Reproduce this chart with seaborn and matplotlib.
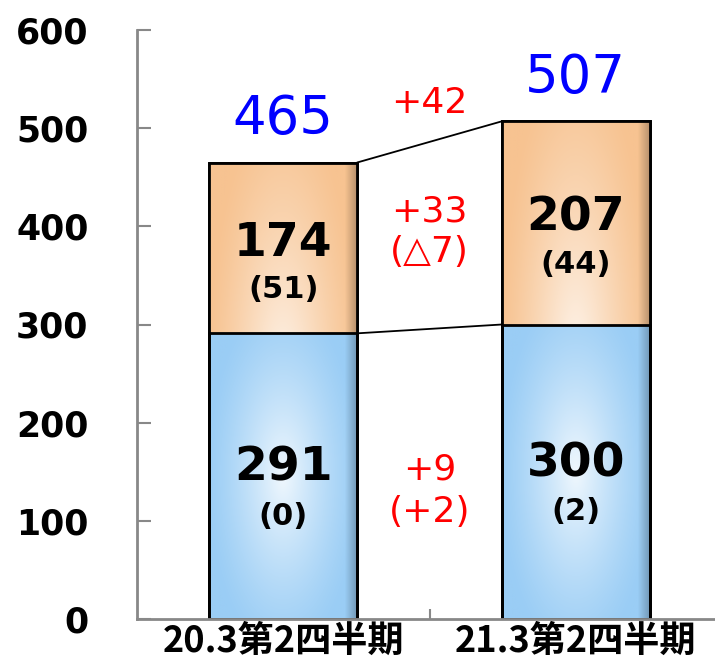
import numpy as np
import pandas as pd
import matplotlib
matplotlib.use("Agg")
import matplotlib.pyplot as plt
import seaborn as sns
from matplotlib.colors import to_rgb
from matplotlib.patches import Rectangle

# ---- data ----
categories = ["20.3第2四半期", "21.3第2四半期"]
bottom_vals = [291, 300]          # blue segment
top_vals = [174, 207]             # orange segment
bottom_sub = ["(0)", "(2)"]
top_sub = ["(51)", "(44)"]
totals = [465, 507]
diff_total = "+42"
diff_top = ["+33", "(△7)"]
diff_bottom = ["+9", "(+2)"]
yticks = [0, 100, 200, 300, 400, 500, 600]

sns.set_theme(style="white")
plt.rcParams['font.family'] = ['DejaVu Sans']

fig = plt.figure(figsize=(7.15, 6.66), dpi=100)
ax = fig.add_axes([137/715, 47/666, 585/715, 589/666])

df = pd.DataFrame({"cat": categories,
                   "total": [b + t for b, t in zip(bottom_vals, top_vals)],
                   "bottom": bottom_vals})

orange = "#F7C391"
blue = "#9ACDF5"
sns.barplot(data=df, x="cat", y="total", color=orange, width=0.505,
            edgecolor="black", linewidth=2, saturation=1, ax=ax)
sns.barplot(data=df, x="cat", y="bottom", color=blue, width=0.505,
            edgecolor="black", linewidth=2, saturation=1, ax=ax)

ax.set_xlim(-0.5, 1.5)
ax.set_ylim(0, 600)

# gradient fill clipped to bars (bevel look)
def bevel_image(base, n=200):
    base = np.array(to_rgb(base))
    yy, xx = np.mgrid[0:1:n*1j, 0:1:n*1j]
    dx = np.abs(xx - 0.5) * 2
    dy = np.abs(yy - 0.5) * 2
    r = np.clip(np.sqrt(dx**2 * 0.9 + dy**2 * 0.6), 0, 1)
    light = (1 - r) ** 1.3 * 0.85
    img = base[None, None, :] * (1 - light[..., None]) + light[..., None]
    edge = np.clip((xx - 0.92) / 0.08, 0, 1) * 0.25
    img = img * (1 - edge[..., None])
    return np.clip(img, 0, 1)

for p in list(ax.patches):
    x0, y0 = p.get_x(), p.get_y()
    w, h = p.get_width(), p.get_height()
    col = p.get_facecolor()
    im = ax.imshow(bevel_image(col[:3]), extent=[x0, x0 + w, y0, y0 + h],
                   origin="upper", aspect="auto", zorder=p.get_zorder() + 0.01)
    im.set_clip_path(p)
    ax.add_patch(Rectangle((x0, y0), w, h, fill=False, edgecolor="black",
                           linewidth=2, zorder=p.get_zorder() + 0.02))
ax.set_xlim(-0.5, 1.5)
ax.set_ylim(0, 600)

# connecting lines
hw = 0.505 / 2
ax.plot([0 + hw, 1 - hw], [totals[0], totals[1]], color="black", lw=1.3, zorder=1)
ax.plot([0 + hw, 1 - hw], [bottom_vals[0], bottom_vals[1]], color="black", lw=1.3, zorder=1)

# labels inside bars
for i in range(2):
    mid_b = bottom_vals[i] / 2
    ax.text(i, mid_b + 8, str(bottom_vals[i]), ha="center", va="center",
            fontsize=34, fontweight="bold", color="black", zorder=5)
    ax.text(i, mid_b - 41, bottom_sub[i], ha="center", va="center",
            fontsize=22, fontweight="bold", color="black", zorder=5)
    mid_t = bottom_vals[i] + top_vals[i] / 2
    ax.text(i, mid_t + 5, str(top_vals[i]), ha="center", va="center",
            fontsize=34, fontweight="bold", color="black", zorder=5)
    ax.text(i, mid_t - 42, top_sub[i], ha="center", va="center",
            fontsize=22, fontweight="bold", color="black", zorder=5)
    ax.text(i, totals[i] + 44, str(totals[i]), ha="center", va="center",
            fontsize=38, color="#0000FF", zorder=5)

# difference labels
red_fs = 26
ax.text(0.5, 526, diff_total, ha="center", va="center", fontsize=red_fs, color="#FF0000")
ax.text(0.5, 415, diff_top[0], ha="center", va="center", fontsize=red_fs, color="#FF0000")
ax.text(0.5, 374, diff_top[1], ha="center", va="center", fontsize=red_fs, color="#FF0000")
ax.text(0.5, 152, diff_bottom[0], ha="center", va="center", fontsize=red_fs, color="#FF0000")
ax.text(0.5, 109, diff_bottom[1], ha="center", va="center", fontsize=red_fs, color="#FF0000")

# axes styling
for s in ["top", "right"]:
    ax.spines[s].set_visible(False)
for s in ["left", "bottom"]:
    ax.spines[s].set_color("#888888")
    ax.spines[s].set_linewidth(2)

ax.set_yticks(yticks)
ax.set_yticklabels([str(v) for v in yticks], fontsize=25, fontweight="bold",
                   color="black")
ax.tick_params(axis="y", direction="in", length=10, width=1.5, color="#888888",
               pad=35, left=True, labelcolor="black")
ax.set_xticks([0, 1])
ax.set_xticklabels(categories, fontsize=26, fontweight="bold", color="black",
                   family=["Noto Sans CJK JP", "DejaVu Sans"])
ax.tick_params(axis="x", length=0, pad=3, labelcolor="black")
ax.set_xticks([0.5], minor=True)
ax.tick_params(axis="x", which="minor", direction="in", length=7, width=1.5,
               color="#888888", bottom=True)
ax.set_xlabel("")
ax.set_ylabel("")

fig.savefig("out.png", dpi=100)
